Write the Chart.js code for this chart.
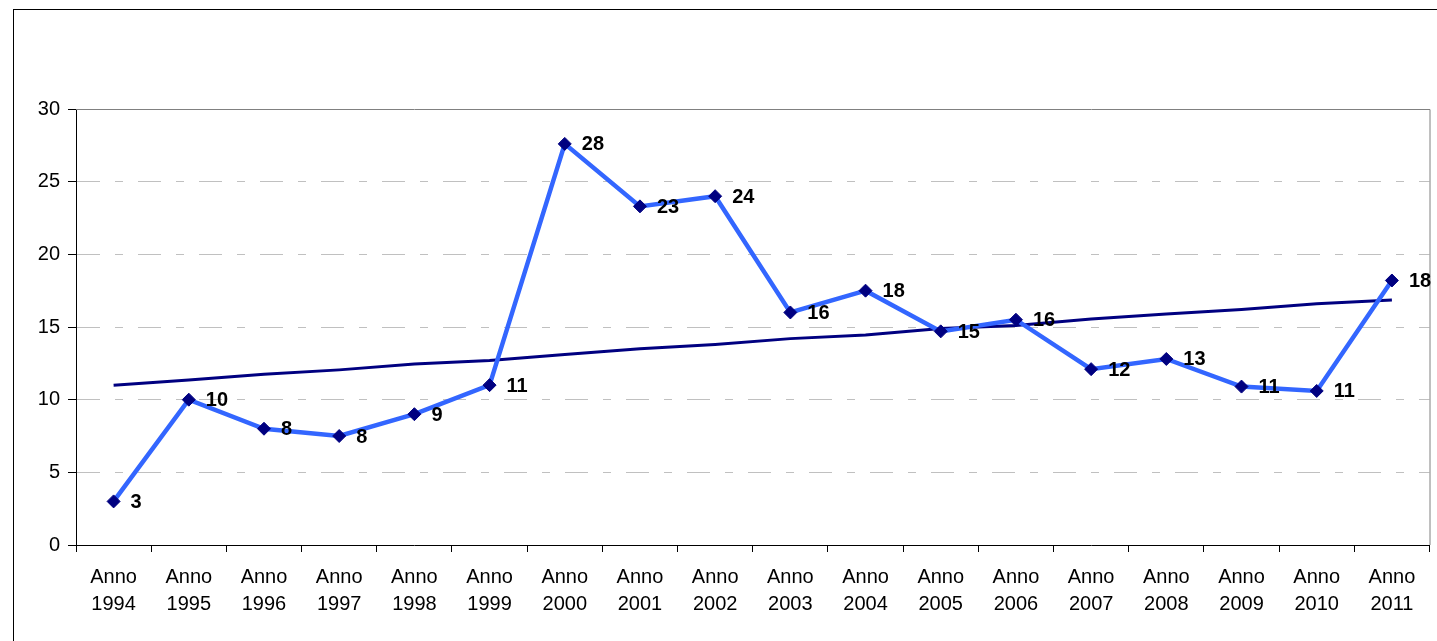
<!DOCTYPE html>
<html>
<head>
<meta charset="utf-8">
<script src="https://cdn.jsdelivr.net/npm/chart.js@4/dist/chart.umd.min.js"></script>
<style>
  html, body { margin: 0; padding: 0; background: #fff; overflow: hidden; }
  #wrap { position: absolute; left: 0; top: 0; width: 1437px; height: 641px; }
  #frame { position: absolute; left: 13px; top: 9px; width: 1440px; height: 650px; border: 1px solid #000; }
  canvas { position: absolute; left: 0; top: 0; }
</style>
</head>
<body>
<div id="wrap">
  <div id="frame"></div>
  <canvas id="chart" width="1437" height="641"></canvas>
</div>
<script>
// anni
const years = ['1994', '1995', '1996', '1997', '1998', '1999', '2000', '2001', '2002',
  '2003', '2004', '2005', '2006', '2007', '2008', '2009', '2010', '2011'];

// valori della serie
const values = [3, 10, 8, 7.5, 9, 11, 27.6, 23.3, 24, 16, 17.5, 14.7, 15.5, 12.1, 12.8, 10.9, 10.6, 18.2];

// linea di tendenza
const trend = [11.0, 11.35, 11.75, 12.05, 12.45, 12.7, 13.1, 13.5, 13.8, 14.2, 14.45, 14.9, 15.1, 15.55, 15.9, 16.2, 16.6, 16.85];

const yTicks = [0, 5, 10, 15, 20, 25, 30];

const FONT = '"Liberation Sans", Arial, sans-serif';
Chart.defaults.font.family = FONT;
Chart.defaults.font.size = 20;
Chart.defaults.color = '#000';

// bordo grigio dell'area del grafico + etichette dei valori
const extras = {
  id: 'extras',
  beforeDatasetsDraw(chart) {
    const a = chart.chartArea;
    const ctx = chart.ctx;
    ctx.save();
    ctx.strokeStyle = '#808080';
    ctx.lineWidth = 1;
    ctx.beginPath();
    ctx.moveTo(a.left, a.top + 0.5);
    ctx.lineTo(a.right + 0.5, a.top + 0.5);
    ctx.lineTo(a.right + 0.5, a.bottom);
    ctx.stroke();
    ctx.restore();
  },
  afterDatasetsDraw(chart) {
    const ctx = chart.ctx;
    const meta = chart.getDatasetMeta(0);
    ctx.save();
    ctx.font = 'bold 20px ' + FONT;
    ctx.fillStyle = '#000';
    ctx.textAlign = 'left';
    ctx.textBaseline = 'middle';
    meta.data.forEach((pt, i) => {
      ctx.fillText(String(Math.round(values[i])), pt.x + 17, pt.y + 1);
    });
    ctx.restore();
  }
};

new Chart(document.getElementById('chart'), {
  type: 'line',
  data: {
    labels: years.map(y => ['Anno', y]),
    datasets: [
      {
        data: values,
        borderColor: '#3366ff',
        borderWidth: 4.5,
        tension: 0,
        pointStyle: 'rectRot',
        pointRadius: 6.5,
        pointBackgroundColor: '#000080',
        pointBorderColor: '#000080',
        pointBorderWidth: 1
      },
      {
        data: trend,
        borderColor: '#000080',
        borderWidth: 3,
        tension: 0,
        pointRadius: 0
      }
    ]
  },
  options: {
    responsive: false,
    animation: false,
    layout: { padding: { left: 0, top: 109, right: 4, bottom: 0 } },
    plugins: { legend: { display: false }, tooltip: { enabled: false } },
    scales: {
      x: {
        offset: true,
        grid: { offset: true, drawOnChartArea: false, drawTicks: true, tickLength: 7, tickColor: '#000', color: '#000' },
        border: { color: '#000', width: 1 },
        ticks: { font: { size: 20, lineHeight: 1.35 }, padding: 12, maxRotation: 0, autoSkip: false },
        afterFit(scale) { scale.height = 96; }
      },
      y: {
        min: 0,
        max: 30,
        afterBuildTicks(scale) { scale.ticks = yTicks.map(v => ({ value: v })); },
        grid: {
          color: ctx => (ctx.tick && (ctx.tick.value === 0 || ctx.tick.value === 30)) ? 'rgba(0,0,0,0)' : '#c0c0c0',
          tickColor: '#000',
          tickLength: 8,
          drawTicks: true
        },
        border: { color: '#000', width: 1, dash: [23, 15, 8, 15] },
        ticks: { font: { size: 20 }, padding: 8 },
        afterFit(scale) { scale.width = 76; }
      }
    }
  },
  plugins: [extras]
});
</script>
</body>
</html>
